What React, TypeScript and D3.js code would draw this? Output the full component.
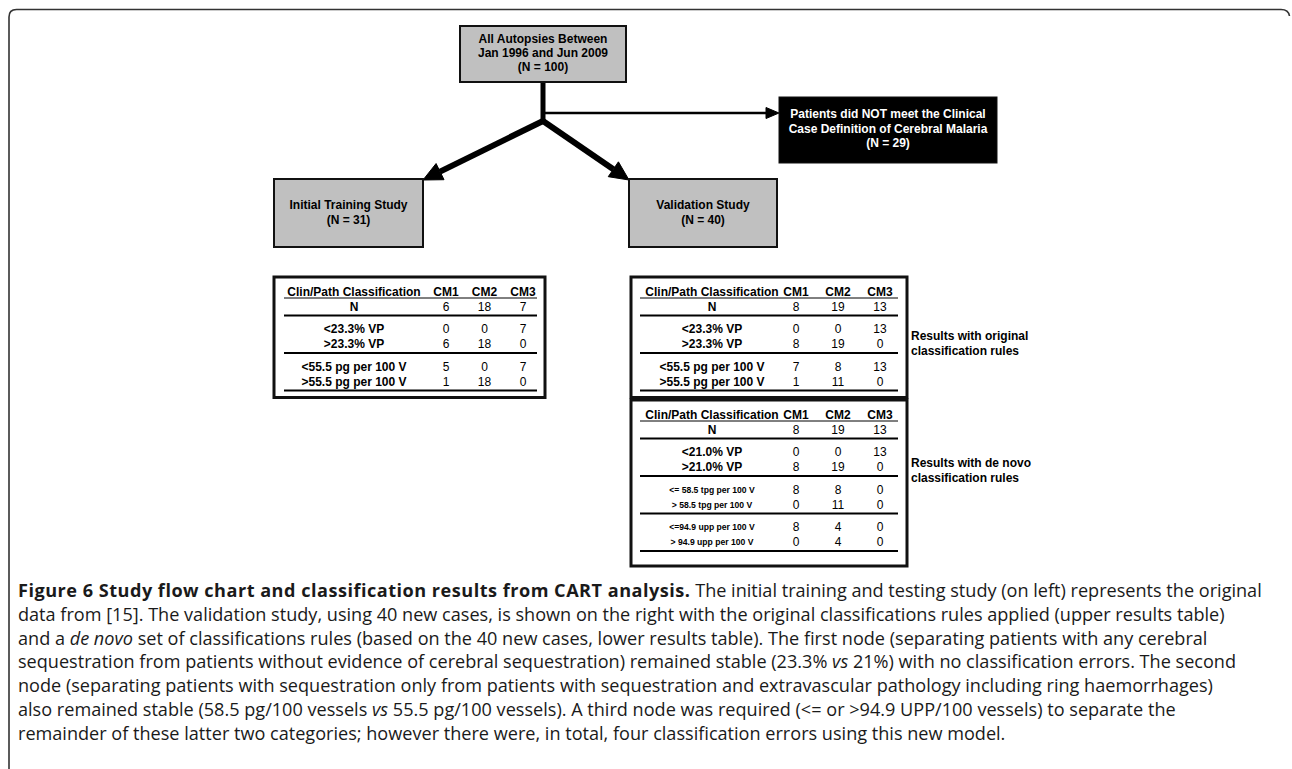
import React from "react";
import * as d3 from "d3";

// ---------------- data ----------------
const topBoxLines = ["All Autopsies Between", "Jan 1996 and Jun 2009", "(N = 100)"];
const excludedLines = ["Patients did NOT meet the Clinical", "Case Definition of Cerebral Malaria", "(N = 29)"];
const trainingLines = ["Initial Training Study", "(N = 31)"];
const validationLines = ["Validation Study", "(N = 40)"];

const classColumns = ["CM1", "CM2", "CM3"];
const headerLabel = "Clin/Path Classification";
const nLabel = "N";

const trainingN = [6, 18, 7];
const trainingRowLabels = [
  ["<23.3% VP", ">23.3% VP"],
  ["<55.5 pg per 100 V", ">55.5 pg per 100 V"],
];
const trainingValues = [
  [[0, 0, 7], [6, 18, 0]],
  [[5, 0, 7], [1, 18, 0]],
];

const originalN = [8, 19, 13];
const originalRowLabels = [
  ["<23.3% VP", ">23.3% VP"],
  ["<55.5 pg per 100 V", ">55.5 pg per 100 V"],
];
const originalValues = [
  [[0, 0, 13], [8, 19, 0]],
  [[7, 8, 13], [1, 11, 0]],
];

const denovoN = [8, 19, 13];
const denovoRowLabels = [
  ["<21.0% VP", ">21.0% VP"],
  ["<= 58.5 tpg per 100 V", "> 58.5 tpg per 100 V"],
  ["<=94.9 upp per 100 V", "> 94.9 upp per 100 V"],
];
const denovoValues = [
  [[0, 0, 13], [8, 19, 0]],
  [[8, 8, 0], [0, 11, 0]],
  [[8, 4, 0], [0, 4, 0]],
];

const sideNoteOriginal = ["Results with original", "classification rules"];
const sideNoteDenovo = ["Results with de novo", "classification rules"];

type Seg = { t: string; b?: boolean; i?: boolean };
const captionLines: Seg[][] = [
  [
    { t: "Figure 6 Study flow chart and classification results from CART analysis.", b: true },
    { t: " The initial training and testing study (on left) represents the original" },
  ],
  [{ t: "data from [15]. The validation study, using 40 new cases, is shown on the right with the original classifications rules applied (upper results table)" }],
  [
    { t: "and a " },
    { t: "de novo", i: true },
    { t: " set of classifications rules (based on the 40 new cases, lower results table). The first node (separating patients with any cerebral" },
  ],
  [
    { t: "sequestration from patients without evidence of cerebral sequestration) remained stable (23.3% " },
    { t: "vs", i: true },
    { t: " 21%) with no classification errors. The second" },
  ],
  [{ t: "node (separating patients with sequestration only from patients with sequestration and extravascular pathology including ring haemorrhages)" }],
  [
    { t: "also remained stable (58.5 pg/100 vessels " },
    { t: "vs", i: true },
    { t: " 55.5 pg/100 vessels). A third node was required (<= or >94.9 UPP/100 vessels) to separate the" },
  ],
  [{ t: "remainder of these latter two categories; however there were, in total, four classification errors using this new model." }],
];

// ---------------- layout ----------------
const W = 1292;
const H = 769;
const FONT = "'Liberation Sans', Arial, Helvetica, sans-serif";
const CAP_FONT = "'Open Sans', 'Noto Sans', sans-serif";
const GREY = "#c0c0c0";

const topBox = { x: 460, y: 26, w: 166, h: 56 };
const exclBox = { x: 779, y: 97, w: 218, h: 66 };
const leftBox = { x: 274, y: 179, w: 149, h: 68 };
const rightBox = { x: 629, y: 179, w: 148, h: 68 };
const stemX = 543;
const branchY = 121;
const sideY = 113;

type TableSpec = {
  x: number; y: number; w: number; bottomPad: number;
  labelX: number; colRange: [number, number]; ruleX0: number; ruleX1: number;
  n: number[]; labels: string[][]; values: number[][][]; labelSizes: number[];
};

const tables: TableSpec[] = [
  {
    x: 274, y: 277, w: 271, bottomPad: 7, labelX: 354, colRange: [446, 523], ruleX0: 284, ruleX1: 537,
    n: trainingN, labels: trainingRowLabels, values: trainingValues, labelSizes: [12, 12],
  },
  {
    x: 631, y: 277, w: 276, bottomPad: 7, labelX: 712, colRange: [796, 880], ruleX0: 640, ruleX1: 898,
    n: originalN, labels: originalRowLabels, values: originalValues, labelSizes: [12, 12],
  },
  {
    x: 631, y: 400, w: 276, bottomPad: 15, labelX: 712, colRange: [796, 880], ruleX0: 640, ruleX1: 898,
    n: denovoN, labels: denovoRowLabels, values: denovoValues, labelSizes: [12, 8.6, 8.6],
  },
];

function BoxText({ lines, cx, y0, step, fill }: { lines: string[]; cx: number; y0: number; step: number; fill: string }) {
  return (
    <>
      {lines.map((l, i) => (
        <text key={i} x={cx} y={y0 + i * step} dy="0.35em" textAnchor="middle" fontFamily={FONT}
          fontWeight="bold" fontSize={12} fill={fill}>{l}</text>
      ))}
    </>
  );
}

function arrowHead(x0: number, y0: number, x1: number, y1: number, len: number, half: number) {
  const dx = x1 - x0, dy = y1 - y0;
  const L = Math.hypot(dx, dy);
  const ux = dx / L, uy = dy / L;
  const bx = x1 - ux * len, by = y1 - uy * len;
  const px = -uy, py = ux;
  const pts: [number, number][] = [
    [x1, y1],
    [bx + px * half, by + py * half],
    [bx - px * half, by - py * half],
  ];
  return { path: d3.line()(pts.concat([pts[0]])) as string, bx, by };
}

function Arrow({ x0, y0, x1, y1, width, len, half }: any) {
  const h = arrowHead(x0, y0, x1, y1, len, half);
  return (
    <g>
      <line x1={x0} y1={y0} x2={h.bx} y2={h.by} stroke="#000" strokeWidth={width} />
      <path d={h.path} fill="#000" stroke="#000" strokeWidth={1} strokeLinejoin="miter" />
    </g>
  );
}

function Table({ spec }: { spec: TableSpec }) {
  const col = d3.scalePoint<string>().domain(classColumns).range(spec.colRange);
  const top = spec.y;
  const headerY = top + 15;
  const underlineY = top + 21;
  const nY = top + 29.5;
  const firstRule = top + 38.5;
  const groupStep = 37.5;
  const lastRule = firstRule + spec.labels.length * groupStep;
  const height = lastRule - top + spec.bottomPad;
  const rules = d3.range(spec.labels.length + 1).map((k) => firstRule + k * groupStep);
  return (
    <g>
      <rect x={spec.x} y={top} width={spec.w} height={height} fill="#fff" stroke="#111" strokeWidth={3} />
      <text x={spec.labelX} y={headerY} dy="0.35em" textAnchor="middle" fontFamily={FONT} fontWeight="bold" fontSize={12}>{headerLabel}</text>
      {classColumns.map((c) => (
        <text key={c} x={col(c)} y={headerY} dy="0.35em" textAnchor="middle" fontFamily={FONT} fontWeight="bold" fontSize={12}>{c}</text>
      ))}
      <line x1={spec.ruleX0} x2={spec.ruleX1} y1={underlineY} y2={underlineY} stroke="#000" strokeWidth={1} />
      <text x={spec.labelX} y={nY} dy="0.35em" textAnchor="middle" fontFamily={FONT} fontWeight="bold" fontSize={12}>{nLabel}</text>
      {spec.n.map((v, j) => (
        <text key={j} x={col(classColumns[j])} y={nY} dy="0.35em" textAnchor="middle" fontFamily={FONT} fontSize={12}>{v}</text>
      ))}
      {rules.map((ry, k) => (
        <line key={k} x1={spec.ruleX0} x2={spec.ruleX1} y1={ry} y2={ry} stroke="#000" strokeWidth={2} />
      ))}
      {spec.labels.map((pair, g) =>
        pair.map((lab, r) => {
          const ry = rules[g] + 13.5 + r * 15;
          return (
            <g key={`${g}-${r}`}>
              <text x={spec.labelX} y={ry} dy="0.35em" textAnchor="middle" fontFamily={FONT} fontWeight="bold" fontSize={spec.labelSizes[g]}>{lab}</text>
              {spec.values[g][r].map((v, j) => (
                <text key={j} x={col(classColumns[j])} y={ry} dy="0.35em" textAnchor="middle" fontFamily={FONT} fontSize={12}>{v}</text>
              ))}
            </g>
          );
        })
      )}
    </g>
  );
}

export default function App() {
  const capX = 18;
  const capY0 = 591;
  const capStep = 23.7;
  const capSize = 18.1;
  return (
    <svg width={W} height={H} viewBox={`0 0 ${W} ${H}`} style={{ position: "absolute", left: 0, top: 0, background: "#fff" }}>
      <rect x={0} y={0} width={W} height={H} fill="#fff" />
      {/* outer frame */}
      <path d={`M 9 ${H} V 17 Q 9 9.5 16.5 9.5 H 1281 Q 1288.5 9.5 1289.5 16`} fill="none" stroke="#333" strokeWidth={1.6} />

      {/* connectors */}
      <line x1={stemX} y1={topBox.y + topBox.h} x2={stemX} y2={branchY + 2} stroke="#000" strokeWidth={5} />
      <Arrow x0={stemX} y0={sideY} x1={exclBox.x} y1={sideY} width={2.5} len={13} half={5.5} />
      <Arrow x0={stemX} y0={branchY} x1={leftBox.x + leftBox.w} y1={leftBox.y + 1} width={6} len={19} half={9} />
      <Arrow x0={stemX} y0={branchY} x1={rightBox.x} y1={rightBox.y + 1} width={6} len={19} half={9} />

      {/* boxes */}
      <rect x={topBox.x} y={topBox.y} width={topBox.w} height={topBox.h} fill={GREY} stroke="#111" strokeWidth={2} />
      <BoxText lines={topBoxLines} cx={topBox.x + topBox.w / 2} y0={topBox.y + 13} step={14} fill="#000" />
      <rect x={exclBox.x} y={exclBox.y} width={exclBox.w} height={exclBox.h} fill="#000" stroke="#111" strokeWidth={1} />
      <BoxText lines={excludedLines} cx={exclBox.x + exclBox.w / 2} y0={exclBox.y + 17} step={14.5} fill="#fff" />
      <rect x={leftBox.x} y={leftBox.y} width={leftBox.w} height={leftBox.h} fill={GREY} stroke="#111" strokeWidth={2} />
      <BoxText lines={trainingLines} cx={leftBox.x + leftBox.w / 2} y0={leftBox.y + 26} step={15} fill="#000" />
      <rect x={rightBox.x} y={rightBox.y} width={rightBox.w} height={rightBox.h} fill={GREY} stroke="#111" strokeWidth={2} />
      <BoxText lines={validationLines} cx={rightBox.x + rightBox.w / 2} y0={rightBox.y + 26} step={15} fill="#000" />

      {/* tables */}
      {tables.map((t, i) => <Table key={i} spec={t} />)}

      {/* side notes */}
      {sideNoteOriginal.map((l, i) => (
        <text key={`o${i}`} x={911} y={336 + i * 14.5} dy="0.35em" fontFamily={FONT} fontWeight="bold" fontSize={12}>{l}</text>
      ))}
      {sideNoteDenovo.map((l, i) => (
        <text key={`d${i}`} x={911} y={463 + i * 15} dy="0.35em" fontFamily={FONT} fontWeight="bold" fontSize={12}>{l}</text>
      ))}

      {/* caption */}
      {captionLines.map((segs, i) => (
        <text key={i} x={capX} y={capY0 + i * capStep} dy="0.35em" fontFamily={CAP_FONT} fontSize={capSize} fill="#1a1a1a">
          {segs.map((s, j) => (
            <tspan key={j} fontWeight={s.b ? "bold" : "normal"} fontStyle={s.i ? "italic" : "normal"}
              letterSpacing={s.b ? 0.5 : 0}>{s.t}</tspan>
          ))}
        </text>
      ))}
    </svg>
  );
}
